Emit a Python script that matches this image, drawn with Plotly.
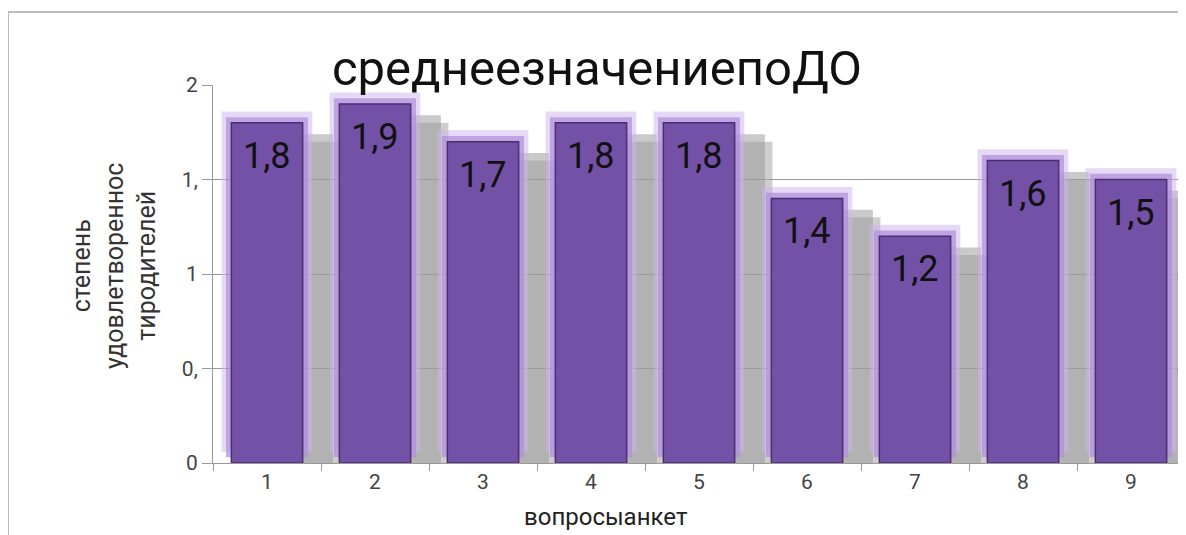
import plotly.graph_objects as go

categories = ["1", "2", "3", "4", "5", "6", "7", "8", "9"]
values = [1.8, 1.9, 1.7, 1.8, 1.8, 1.4, 1.2, 1.6, 1.5]
labels = [f"{v:.1f}".replace(".", ",") for v in values]
y_tickvals = [0, 0.5, 1, 1.5, 2]
y_ticktext = ["0", "0,", "1", "1,", "2"]

title_text = "среднеезначениепоДО"
y_title = "степень<br>удовлетвореннос<br>тиродителей"
x_title = "вопросыанкет"

FONT = "Roboto"
W, H = 1178, 527
L, R, T, B = 205, 1, 77, 72
PW, PH = W - L - R, H - T - B


def px_x(x):
    return (x - L) / PW


def px_y(y):
    return (H - B - y) / PH


fig = go.Figure()

# shadow
fig.add_trace(go.Bar(
    x=categories, y=values, base=-0.1,
    width=0.7, offset=-0.02,
    marker=dict(color="rgba(165,165,165,0.55)", line=dict(width=0)),
    hoverinfo="skip", showlegend=False,
))
fig.add_trace(go.Bar(
    x=categories, y=values, base=-0.06,
    width=0.56, offset=0.05,
    marker=dict(color="rgba(150,150,150,0.5)", line=dict(width=0)),
    hoverinfo="skip", showlegend=False,
))
# glow (outer, inner)
fig.add_trace(go.Bar(
    x=categories, y=values, base=0.06,
    width=0.84, offset=-0.42,
    marker=dict(color="rgba(205,180,238,0.5)", line=dict(width=0)),
    hoverinfo="skip", showlegend=False,
))
fig.add_trace(go.Bar(
    x=categories, y=values, base=0.03,
    width=0.76, offset=-0.38,
    marker=dict(color="rgba(175,140,220,0.7)", line=dict(width=0)),
    hoverinfo="skip", showlegend=False,
))
# main bars
fig.add_trace(go.Bar(
    x=categories, y=values,
    width=0.66, offset=-0.33,
    marker=dict(color="#7351a6", line=dict(width=1.5, color="#4a2e72")),
    showlegend=False,
))

annotations = []
for i, (v, t) in enumerate(zip(values, labels)):
    annotations.append(dict(
        x=i, y=v, xref="x", yref="y", text=t, showarrow=False,
        yanchor="top", yshift=-10,
        font=dict(family=FONT, size=36, color="#111111"),
    ))
annotations.append(dict(
    x=px_x(598), y=px_y(509), xref="paper", yref="paper",
    text=x_title, showarrow=False, yanchor="middle", xanchor="center",
    font=dict(family=FONT, size=24, color="#222222"),
))
annotations.append(dict(
    x=px_x(57), y=px_y(258), xref="paper", yref="paper",
    text=y_title, showarrow=False, textangle=-90,
    font=dict(family=FONT, size=25, color="#333333"),
))

fig.update_layout(
    width=W, height=H,
    margin=dict(l=L, r=R, t=T, b=B),
    paper_bgcolor="white", plot_bgcolor="white",
    barmode="overlay",
    title=dict(text=title_text, x=589 / W, xanchor="center",
               y=1 - 60 / H, yanchor="middle",
               font=dict(family=FONT, size=49, color="#111111")),
    annotations=annotations,
    shapes=[dict(type="rect", xref="paper", yref="paper",
                 x0=px_x(0), x1=1.2, y0=-0.5, y1=px_y(4),
                 line=dict(color="#bbbbbb", width=2), layer="below")],
    font=dict(family=FONT),
)
fig.update_xaxes(
    type="category", range=[-0.5, 8.5],
    showline=True, linecolor="#999999", linewidth=1,
    ticks="outside", tickson="boundaries", ticklen=7, tickcolor="#999999",
    tickfont=dict(family=FONT, size=21, color="#444444"),
    showgrid=False,
)
fig.update_yaxes(
    range=[0, 2], tickvals=y_tickvals, ticktext=y_ticktext,
    showline=True, linecolor="#999999", linewidth=1,
    ticks="outside", ticklen=10, tickcolor="#999999",
    tickfont=dict(family=FONT, size=21, color="#444444"),
    showgrid=True, gridcolor="#999999", gridwidth=1,
    zeroline=False,
)

fig.write_html("out.html")
